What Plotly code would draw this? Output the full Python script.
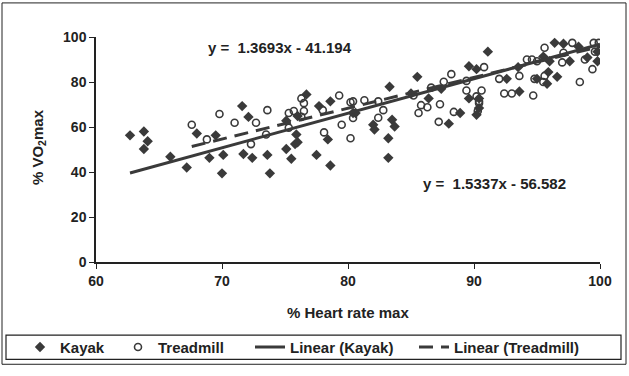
import numpy as np
import plotly.graph_objects as go

# ---- data ----
kayak_x = [62.7, 63.8, 64.1, 63.8, 65.9, 67.2, 68.0, 69.5, 69.0, 70.1, 70.0, 71.6, 72.1, 71.7, 72.4,
           73.6, 73.8, 75.1, 75.1, 75.8, 76.0, 75.5, 75.9, 76.7, 76.0, 77.5, 78.6, 77.7, 78.6, 78.4,
           80.4, 83.3, 85.5, 89.6, 83.5, 83.7, 82.0, 82.1, 83.2, 83.2, 85.0, 86.4, 88.0, 88.9, 89.6,
           87.4, 80.6, 90.2, 91.1, 90.2, 90.4, 90.4, 92.6, 93.6, 93.5, 95.5, 96.4, 97.1, 98.3, 96.0,
           95.9, 96.6, 97.6, 99.0, 99.8, 99.8, 95.0, 95.8]
kayak_y = [56.3, 58.0, 53.7, 50.2, 46.8, 42.0, 57.1, 56.3, 46.3, 47.6, 39.4, 69.3, 64.5, 48.0, 46.3,
           47.6, 39.4, 62.8, 50.2, 52.4, 53.2, 45.9, 56.7, 74.5, 64.9, 47.6, 42.9, 69.3, 71.4, 54.5,
           66.2, 77.9, 82.3, 87.0, 63.2, 60.2, 61.0, 58.9, 55.0, 46.3, 74.9, 72.7, 61.5, 66.2, 72.7,
           77.0, 66.2, 65.4, 93.5, 85.7, 72.7, 68.4, 81.4, 75.8, 86.6, 91.3, 97.4, 97.0, 95.7, 89.2,
           84.4, 82.3, 89.2, 90.9, 93.5, 89.2, 81.4, 79.2]

tread_x = [67.6, 69.8, 68.8, 73.6, 71.0, 72.7, 72.3, 73.5, 75.3, 75.7, 76.3, 76.5, 76.5, 76.3, 75.3,
           78.0, 79.3, 80.2, 79.5, 78.1, 80.2, 80.4, 80.4, 81.3, 82.4, 82.4, 82.8, 88.2, 87.6, 86.6,
           85.8, 86.3, 87.3, 85.6, 87.2, 88.4, 89.4, 90.3, 90.4, 89.4, 85.2, 90.8, 90.6, 92.0, 92.4,
           93.0, 93.6, 94.2, 94.6, 95.0, 94.7, 94.8, 95.5, 95.6, 95.6, 97.8, 97.1, 97.0, 98.8, 99.4,
           99.5, 99.9, 99.6, 90.2, 90.4, 98.4]
tread_y = [61.0, 65.8, 54.5, 67.5, 61.9, 61.9, 52.4, 56.7, 66.2, 67.1, 72.7, 70.6, 67.1, 64.5, 59.7,
           67.5, 74.0, 71.0, 61.0, 57.6, 55.0, 64.0, 71.4, 71.9, 71.4, 64.1, 67.5, 83.5, 80.1, 77.5,
           69.7, 68.8, 70.1, 66.2, 62.3, 66.7, 76.2, 67.1, 71.4, 80.5, 74.0, 86.6, 76.2, 81.4, 74.9,
           74.9, 82.7, 90.0, 90.0, 89.2, 74.0, 81.4, 80.0, 82.7, 95.2, 97.4, 93.0, 88.7, 90.0, 85.7,
           97.4, 97.4, 93.5, 73.6, 70.6, 80.0]

# trendline equations shown on the chart
kayak_slope, kayak_icpt = 1.5337, -56.582
tread_slope, tread_icpt = 1.3693, -41.194
kayak_range = [62.7, 100]
tread_range = [67.6, 100]

x_ticks = [60, 70, 80, 90, 100]
y_ticks = [0, 20, 40, 60, 80, 100]

# ---- figure ----
W, H = 629, 376
L, R, T, B = 96, 29, 37, 108
pw, ph = W - L - R, H - T - B

def px(x):
    return (x - L) / pw

def py(y):
    return (H - B - y) / ph

DARK = "#3a3a3a"
FAM = "Liberation Sans, Arial, sans-serif"
FONT = dict(family=FAM, size=14, color="#222", weight="bold")
LFONT = dict(family=FAM, size=15, color="#222", weight="bold")

fig = go.Figure()
fig.add_trace(go.Scatter(
    x=kayak_x, y=kayak_y, mode="markers", name="Kayak", legend="legend",
    marker=dict(symbol="diamond", size=8, color=DARK, line=dict(width=0))))
fig.add_trace(go.Scatter(
    x=tread_x, y=tread_y, mode="markers", name="Treadmill", legend="legend2",
    marker=dict(symbol="circle-open", size=7, color=DARK, line=dict(width=1.6, color=DARK))))
kx = np.array(kayak_range)
fig.add_trace(go.Scatter(
    x=kx, y=kayak_slope * kx + kayak_icpt, mode="lines", name="Linear (Kayak)", legend="legend3",
    line=dict(color=DARK, width=3)))
tx = np.array(tread_range)
fig.add_trace(go.Scatter(
    x=tx, y=tread_slope * tx + tread_icpt, mode="lines", name="Linear (Treadmill)", legend="legend4",
    line=dict(color=DARK, width=3, dash="14px,8px")))

def leg(xpix):
    return dict(orientation="h", x=px(xpix), xanchor="left", y=py(355.5), yanchor="middle",
                font=LFONT, bgcolor="rgba(0,0,0,0)", borderwidth=0, itemwidth=30)

def note(text, xp, yp, size=15, angle=0):
    return dict(text=text, xref="paper", yref="paper", x=px(xp), y=py(yp),
                xanchor="center", yanchor="middle", showarrow=False, textangle=angle,
                font=dict(FONT, size=size))

fig.update_layout(
    width=W, height=H,
    margin=dict(l=L, r=R, t=T, b=B),
    paper_bgcolor="white", plot_bgcolor="white",
    font=FONT,
    showlegend=True,
    legend=leg(20), legend2=leg(118), legend3=leg(250), legend4=leg(414),
    xaxis=dict(range=[60, 100], tickvals=x_ticks, ticks="outside", ticklen=5, tickcolor="#222",
               showline=True, linecolor="#222", linewidth=1.5, showgrid=False, zeroline=False,
               tickfont=FONT),
    yaxis=dict(range=[0, 100], tickvals=y_ticks, ticks="outside", ticklen=5, tickcolor="#222",
               showline=True, linecolor="#222", linewidth=1.5, showgrid=False, zeroline=False,
               tickfont=FONT),
    shapes=[
        dict(type="rect", xref="paper", yref="paper", x0=px(2), x1=px(626), y0=py(373), y1=py(2),
             line=dict(color="#222", width=1)),
        dict(type="rect", xref="paper", yref="paper", x0=px(6), x1=px(621), y0=py(368), y1=py(343),
             line=dict(color="#222", width=1.2)),
    ],
    annotations=[
        note("y =  1.3693x - 41.194", 280, 48),
        note("y =  1.5337x - 56.582", 494, 187),
        note("% Heart rate max", 348, 320),
        note("% VO<sub>2</sub>max", 38, 150, angle=-90),
    ],
)

fig.write_html("out.html")
